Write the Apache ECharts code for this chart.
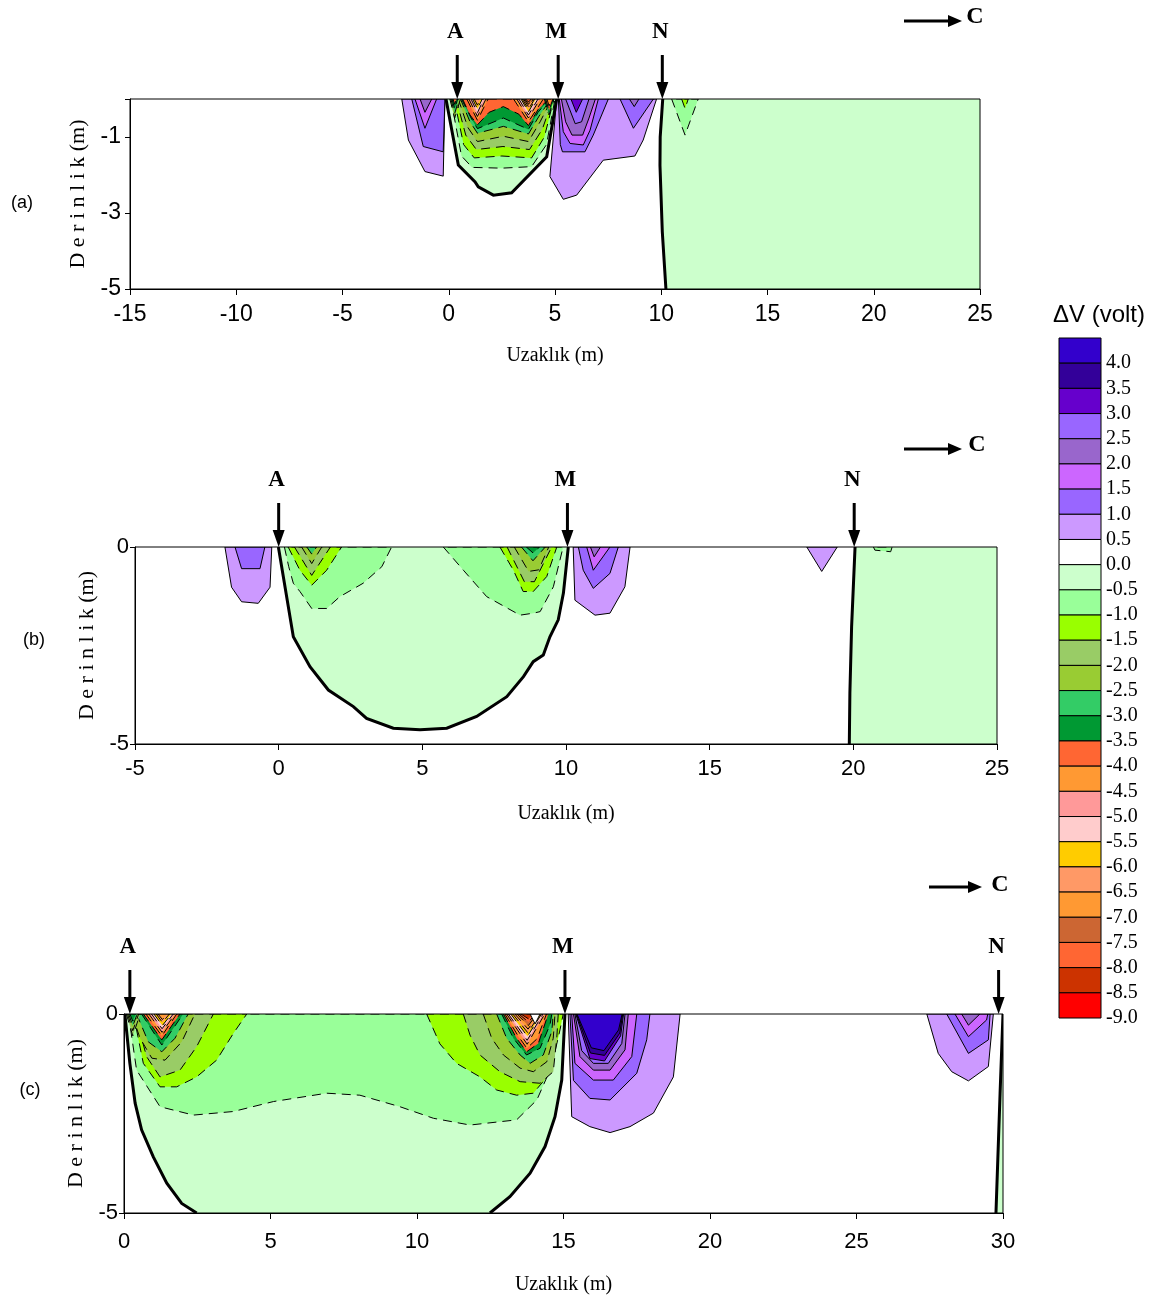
<!DOCTYPE html>
<html>
<head>
<meta charset="utf-8">
<script src="https://cdn.jsdelivr.net/npm/echarts@6/dist/echarts.min.js"></script>
<style>
html, body { margin: 0; padding: 0; background: #fff; }
#chart { width: 1154px; height: 1299px; }
</style>
</head>
<body>
<div id="chart"></div>
<script>
// ΔV colour classes: lower bound of each 0.5 V class, top to bottom
const binLower = [4.0, 3.5, 3.0, 2.5, 2.0, 1.5, 1.0, 0.5, 0.0, -0.5, -1.0, -1.5, -2.0, -2.5, -3.0, -3.5,
  -4.0, -4.5, -5.0, -5.5, -6.0, -6.5, -7.0, -7.5, -8.0, -8.5, -9.0];
const binColor = ['#3300CC', '#330099', '#6600CC', '#9966FF', '#9966CC', '#CC66FF', '#9966FF', '#CC99FF',
  '#FFFFFF', '#CCFFCC', '#99FF99', '#99FF00', '#99CC66', '#99CC33', '#33CC66', '#009933',
  '#FF6633', '#FF9933', '#FF9999', '#FFCCCC', '#FFCC00', '#FF9966', '#FF9933', '#CC6633',
  '#FF6633', '#CC3300', '#FF0000'];

// Profile (a): filled contour regions [class, [[distance, depth], ...]]
const contoursA = [
  [-0.5, [[-0.13,0],[0.45,-1.74],[1.24,-2.18],[1.39,-2.31],[2.10,-2.53],[2.96,-2.47],[4.61,-1.52],[5.08,0]]],
  [-0.5, [[10.07,0],[9.95,-1.0],[9.94,-1.75],[10.05,-3.5],[10.22,-5],[25,-5],[25,0]]],
  [-1.0, [[0.1,0],[0.6,-1.5],[1.1,-1.8],[2.5,-1.82],[3.9,-1.78],[4.6,-1.2],[5.0,0]]],
  [-1.5, [[0.25,0],[0.7,-1.2],[1.2,-1.55],[2.5,-1.5],[3.9,-1.55],[4.5,-1.0],[4.95,0]]],
  [-2.0, [[0.35,0],[0.8,-0.95],[1.3,-1.33],[2.55,-1.25],[3.8,-1.33],[4.4,-0.8],[4.9,0]]],
  [-2.5, [[0.45,0],[0.9,-0.75],[1.35,-1.12],[2.57,-0.98],[3.75,-1.12],[4.3,-0.6],[4.85,0]]],
  [-3.0, [[0.55,0],[1.0,-0.6],[1.35,-0.9],[2.57,-0.72],[3.75,-0.92],[4.25,-0.45],[4.8,0]]],
  [-3.5, [[0.6,0],[1.05,-0.5],[1.35,-0.78],[2.57,-0.5],[3.75,-0.8],[4.2,-0.35],[4.75,0]]],
  [-4.0, [[0.65,0],[1.0,-0.42],[1.35,-0.68],[1.9,-0.35],[2.57,-0.2],[3.3,-0.4],[3.75,-0.7],[4.2,-0.28],[4.7,0]]],
  [-4.5, [[0.85,0],[1.35,-0.56],[1.85,0]]],
  [-4.5, [[3.05,0],[3.75,-0.6],[4.45,0]]],
  [-5.0, [[0.95,0],[1.35,-0.46],[1.75,0]]],
  [-5.0, [[3.2,0],[3.75,-0.5],[4.3,0]]],
  [-5.5, [[1.05,0],[1.35,-0.36],[1.65,0]]],
  [-5.5, [[3.3,0],[3.75,-0.42],[4.2,0]]],
  [-6.0, [[1.12,0],[1.35,-0.26],[1.58,0]]],
  [-6.0, [[3.4,0],[3.75,-0.34],[4.1,0]]],
  [-6.5, [[1.2,0],[1.35,-0.16],[1.5,0]]],
  [-6.5, [[3.46,0],[3.75,-0.27],[4.04,0]]],
  [-7.0, [[3.52,0],[3.75,-0.2],[3.98,0]]],
  [-7.5, [[3.57,0],[3.75,-0.14],[3.93,0]]],
  [-8.0, [[3.62,0],[3.75,-0.08],[3.88,0]]],
  [-2.5, [[0.05,0],[0.28,-0.5],[0.55,0]]],
  [-3.0, [[0.1,0],[0.28,-0.38],[0.48,0]]],
  [-3.5, [[0.15,0],[0.28,-0.26],[0.42,0]]],
  [-4.0, [[0.2,0],[0.28,-0.14],[0.36,0]]],
  [-3.5, [[4.5,0],[4.72,-0.42],[4.95,0]]],
  [-4.0, [[4.56,0],[4.72,-0.3],[4.9,0]]],
  [-4.5, [[4.62,0],[4.72,-0.18],[4.84,0]]],
  [0.5, [[-2.21,0],[-1.9,-1.08],[-1.12,-1.91],[-0.26,-2.03],[-0.18,0]]],
  [1.0, [[-1.74,0],[-1.2,-1.25],[-0.26,-1.39],[-0.18,0]]],
  [1.5, [[-1.59,0],[-1.12,-0.77],[-0.57,0]]],
  [2.0, [[-1.35,0],[-1.12,-0.35],[-0.8,0]]],
  [0.5, [[5.08,0],[4.76,-2.04],[5.39,-2.64],[6.02,-2.53],[7.27,-1.61],[8.76,-1.5],[9.15,-1.08],[9.78,0]]],
  [1.0, [[5.16,0],[5.25,-1.2],[5.35,-1.39],[6.41,-1.39],[6.8,-0.95],[7.51,0]]],
  [1.0, [[8.06,0],[8.69,-0.77],[9.63,0]]],
  [1.5, [[5.2,0],[5.39,-0.86],[5.71,-1.17],[6.33,-1.21],[6.65,-0.82],[7.04,0]]],
  [2.0, [[5.3,0],[5.5,-0.6],[5.8,-0.95],[6.3,-0.95],[6.6,-0.5],[6.9,0]]],
  [2.0, [[8.5,0],[8.73,-0.2],[8.95,0]]],
  [2.5, [[5.5,0],[5.95,-0.65],[6.25,-0.6],[6.6,0]]],
  [3.0, [[5.75,0],[6.0,-0.35],[6.3,0]]],
  [-1.0, [[10.49,0],[11.12,-0.95],[11.74,0]]],
  [-1.5, [[10.96,0],[11.12,-0.25],[11.27,0]]]
];
const zeroLinesA = [
  [[-0.13,0],[0.45,-1.74],[1.24,-2.18],[1.39,-2.31],[2.10,-2.53],[2.96,-2.47],[4.61,-1.52],[5.08,0]],
  [[10.07,0],[9.95,-1.0],[9.94,-1.75],[10.05,-3.5],[10.22,-5]]
];
const electrodesA = [['A', 0.4], ['M', 5.15], ['N', 10.05]];

// Profile (b)
const contoursB = [
  [-0.5, [[-0.01,0],[0.51,-2.28],[1.09,-3.04],[1.73,-3.63],[2.60,-4.05],[3.06,-4.35],[3.99,-4.60],[4.92,-4.64],[5.85,-4.60],[6.89,-4.30],[7.94,-3.80],[8.52,-3.29],[8.86,-2.91],[9.21,-2.74],[9.44,-2.28],[9.73,-1.85],[9.91,-1.17],[10.08,0]]],
  [-0.5, [[20.06,0],[19.94,-2.02],[19.88,-3.71],[19.86,-5],[25,-5],[25,0]]],
  [-1.0, [[0.2,0],[0.35,-0.5],[0.51,-0.92],[0.74,-1.13],[1.15,-1.56],[1.67,-1.56],[2.13,-1.26],[2.94,-0.92],[3.59,-0.5],[3.93,0]]],
  [-1.0, [[5.73,0],[6.43,-0.59],[7.24,-1.26],[8.40,-1.73],[8.86,-1.68],[9.10,-1.64],[9.56,-1.01],[9.79,-0.33],[9.9,0]]],
  [-1.5, [[0.33,0],[0.74,-0.59],[1.15,-0.97],[1.67,-0.59],[2.19,0]]],
  [-2.0, [[0.55,0],[1.15,-0.72],[1.8,0]]],
  [-2.5, [[0.8,0],[1.15,-0.42],[1.5,0]]],
  [-3.0, [[0.98,0],[1.15,-0.18],[1.32,0]]],
  [-1.5, [[7.7,0],[8.17,-0.59],[8.51,-1.13],[8.86,-1.13],[9.33,-0.75],[9.68,0]]],
  [-2.0, [[7.95,0],[8.55,-0.88],[8.9,-0.88],[9.5,0]]],
  [-2.5, [[8.2,0],[8.7,-0.62],[9.05,-0.58],[9.4,0]]],
  [-3.0, [[8.45,0],[8.85,-0.35],[9.28,0]]],
  [-3.5, [[8.62,0],[8.85,-0.15],[9.08,0]]],
  [0.5, [[-1.87,0],[-1.64,-1.02],[-1.29,-1.39],[-0.71,-1.43],[-0.3,-1.02],[-0.24,0]]],
  [1.0, [[-1.52,0],[-1.29,-0.55],[-0.65,-0.55],[-0.48,0]]],
  [0.5, [[10.25,0],[10.31,-1.35],[11.01,-1.73],[11.53,-1.68],[12.05,-1.01],[12.23,0]]],
  [1.0, [[10.43,0],[10.6,-0.59],[10.95,-1.05],[11.53,-0.67],[11.82,0]]],
  [1.5, [[10.72,0],[10.95,-0.59],[11.53,0]]],
  [2.0, [[10.85,0],[10.98,-0.25],[11.2,0]]],
  [0.5, [[18.38,0],[18.9,-0.62],[19.44,0]]],
  [-1.0, [[20.7,0],[20.75,-0.08],[21.3,-0.12],[21.35,0]]]
];
const zeroLinesB = [
  [[-0.01,0],[0.51,-2.28],[1.09,-3.04],[1.73,-3.63],[2.60,-4.05],[3.06,-4.35],[3.99,-4.60],[4.92,-4.64],[5.85,-4.60],[6.89,-4.30],[7.94,-3.80],[8.52,-3.29],[8.86,-2.91],[9.21,-2.74],[9.44,-2.28],[9.73,-1.85],[9.91,-1.17],[10.08,0]],
  [[20.06,0],[19.94,-2.02],[19.88,-3.71],[19.86,-5]]
];
const electrodesB = [['A', 0], ['M', 10.05], ['N', 20.03]];

// Profile (c)
const contoursC = [
  [-0.5, [[0.03,0],[0.2,-1.24],[0.38,-2.24],[0.6,-2.91],[1.0,-3.59],[1.46,-4.25],[1.97,-4.76],[2.48,-5],[12.49,-5],[13.17,-4.59],[13.86,-4.0],[14.37,-3.33],[14.71,-2.58],[14.94,-1.66],[15.05,0]]],
  [-0.5, [[30,0],[29.9,-2.0],[29.76,-5],[30,-5]]],
  [-1.0, [[0.15,0],[0.43,-1.41],[1.23,-2.33],[2.37,-2.54],[3.73,-2.45],[5.10,-2.20],[6.92,-1.99],[8.05,-2.04],[9.42,-2.33],[10.56,-2.62],[11.81,-2.79],[13.40,-2.66],[14.09,-2.16],[14.54,-1.41],[14.94,0]]],
  [-1.5, [[0.32,0],[0.66,-1.24],[1.23,-1.83],[1.80,-1.83],[2.48,-1.58],[3.16,-1.16],[3.73,-0.49],[4.19,0]]],
  [-1.5, [[10.33,0],[10.78,-0.75],[11.35,-1.24],[12.15,-1.58],[12.72,-1.91],[13.40,-2.04],[13.97,-1.99],[14.54,-1.49],[14.88,-0.40],[14.99,0]]],
  [-2.0, [[0.38,0],[0.77,-1.07],[1.23,-1.58],[1.91,-1.41],[2.48,-0.82],[3.05,0]]],
  [-2.0, [[11.58,0],[11.81,-0.53],[12.15,-1.03],[12.83,-1.45],[13.52,-1.7],[14.2,-1.74],[14.65,-1.45],[14.77,-0.61],[14.82,0]]],
  [-2.5, [[0.26,0],[0.55,-0.61],[0.95,-1.11],[1.40,-1.16],[1.97,-0.70],[2.42,0]]],
  [-2.5, [[12.26,0],[12.55,-0.61],[12.95,-1.03],[13.52,-1.36],[13.97,-1.45],[14.43,-1.2],[14.65,-0.61],[14.71,0]]],
  [-3.0, [[0.43,0],[0.83,-0.70],[1.29,-0.95],[1.74,-0.61],[2.19,0]]],
  [-3.0, [[12.72,0],[13.06,-0.61],[13.52,-1.03],[13.86,-1.24],[14.31,-1.03],[14.6,-0.44],[14.65,0]]],
  [-3.5, [[0.6,0],[1.29,-0.78],[2.02,0]]],
  [-3.5, [[12.89,0],[13.29,-0.61],[13.74,-1.03],[14.2,-0.86],[14.54,-0.27],[14.6,0]]],
  [-4.0, [[0.66,0],[1.29,-0.65],[1.91,0]]],
  [-4.0, [[12.95,0],[13.4,-0.61],[13.74,-0.95],[14.14,-0.74],[14.48,0]]],
  [-4.5, [[0.75,0],[1.29,-0.55],[1.8,0]]],
  [-4.5, [[13.0,0],[13.45,-0.55],[13.75,-0.86],[14.1,-0.62],[14.42,0]]],
  [-5.0, [[0.85,0],[1.3,-0.46],[1.74,0]]],
  [-5.0, [[13.06,0],[13.76,-0.76],[14.36,0]]],
  [-5.5, [[0.94,0],[1.3,-0.37],[1.68,0]]],
  [-5.5, [[13.12,0],[13.76,-0.66],[14.3,0]]],
  [-6.0, [[1.02,0],[1.31,-0.29],[1.62,0]]],
  [-6.0, [[13.2,0],[13.77,-0.56],[14.25,0]]],
  [-6.5, [[1.1,0],[1.31,-0.21],[1.55,0]]],
  [-6.5, [[13.27,0],[13.78,-0.47],[14.2,0]]],
  [-7.0, [[1.16,0],[1.31,-0.14],[1.48,0]]],
  [-7.0, [[13.34,0],[13.79,-0.38],[14.15,0]]],
  [-7.5, [[13.41,0],[13.8,-0.29],[14.1,0]]],
  [-8.0, [[13.48,0],[13.8,-0.2],[14.05,0]]],
  [-8.5, [[13.55,0],[13.8,-0.12],[14.0,0]]],
  [0.0, [[13.86,0],[14.03,-0.25],[14.2,0]]],
  [-2.0, [[0.08,0],[0.3,-0.55],[0.55,0]]],
  [-2.5, [[0.12,0],[0.3,-0.42],[0.5,0]]],
  [-3.0, [[0.16,0],[0.3,-0.3],[0.45,0]]],
  [-3.5, [[0.2,0],[0.3,-0.18],[0.4,0]]],
  [0.5, [[15.16,0],[15.28,-2.58],[15.9,-2.83],[16.59,-2.98],[17.27,-2.83],[18.07,-2.49],[18.75,-1.58],[18.98,0]]],
  [1.0, [[15.22,0],[15.34,-1.67],[15.9,-2.12],[16.59,-2.16],[17.5,-1.49],[17.84,-0.65],[17.95,0]]],
  [1.5, [[15.28,0],[15.39,-1.24],[16.02,-1.66],[16.7,-1.66],[17.33,-1.07],[17.5,0]]],
  [2.0, [[15.34,0],[15.56,-1.07],[16.02,-1.41],[16.59,-1.41],[17.1,-0.9],[17.21,0]]],
  [2.5, [[15.39,0],[15.62,-0.92],[16.02,-1.24],[16.53,-1.24],[16.99,-0.74],[17.1,0]]],
  [3.0, [[15.42,0],[15.9,-1.12],[16.4,-1.18],[16.95,-0.55],[17.05,0]]],
  [3.5, [[15.44,0],[15.92,-0.98],[16.4,-1.04],[16.92,-0.48],[17.02,0]]],
  [4.0, [[15.46,0],[15.95,-0.85],[16.38,-0.92],[16.88,-0.4],[17.0,0]]],
  [0.5, [[27.4,0],[27.79,-0.99],[28.25,-1.45],[28.82,-1.68],[29.5,-1.32],[29.67,0]]],
  [1.0, [[28.08,0],[28.82,-0.99],[29.5,-0.65],[29.56,0]]],
  [1.5, [[28.36,0],[28.82,-0.57],[29.44,-0.15],[29.48,0]]],
  [2.0, [[28.59,0],[28.82,-0.28],[29.21,0]]]
];
const zeroLinesC = [
  [[0.03,0],[0.2,-1.24],[0.38,-2.24],[0.6,-2.91],[1.0,-3.59],[1.46,-4.25],[1.97,-4.76],[2.48,-5]],
  [[12.49,-5],[13.17,-4.59],[13.86,-4.0],[14.37,-3.33],[14.71,-2.58],[14.94,-1.66],[15.05,0]],
  [[30,0],[29.9,-2.0],[29.76,-5]]
];
const electrodesC = [['A', 0.2], ['M', 15.05], ['N', 29.85]];

// Axis ranges and depth tick spacing per profile
const xRanges = [[-15, 25], [-5, 25], [0, 30]];
const depthTicks = [2, 5, 5];

function colorOf(level) {
  return binColor[binLower.indexOf(level)];
}

function contourSeries(idx, list) {
  return {
    type: 'custom', xAxisIndex: idx, yAxisIndex: idx, clip: true, silent: true, z: 2,
    data: list.map(c => c[1][0]),
    renderItem: (params, api) => {
      const lvl = list[params.dataIndex][0];
      const points = list[params.dataIndex][1].map(p => api.coord(p));
      const style = { fill: colorOf(lvl), stroke: '#000', lineWidth: 1 };
      if (lvl === -0.5) style.stroke = null;
      else if (lvl <= -1.0) style.lineDash = [9, 6];
      return { type: 'polygon', shape: { points }, style };
    }
  };
}

function zeroSeries(idx, lines) {
  return {
    type: 'custom', xAxisIndex: idx, yAxisIndex: idx, clip: true, silent: true, z: 3,
    data: lines.map(l => l[0]),
    renderItem: (params, api) => ({
      type: 'polyline',
      shape: { points: lines[params.dataIndex].map(p => api.coord(p)) },
      style: { stroke: '#000', lineWidth: 3, fill: null }
    })
  };
}

function electrodeSeries(idx, list) {
  return {
    type: 'custom', xAxisIndex: idx, yAxisIndex: idx, clip: false, silent: true, z: 4,
    data: list.map(e => [e[1], 0]),
    renderItem: (params, api) => {
      const p = api.coord([list[params.dataIndex][1], 0]);
      return {
        type: 'group',
        children: [
          { type: 'line', shape: { x1: p[0], y1: p[1] - 44, x2: p[0], y2: p[1] - 14 }, style: { stroke: '#000', lineWidth: 3 } },
          { type: 'polygon', shape: { points: [[p[0] - 6, p[1] - 17], [p[0] + 6, p[1] - 17], [p[0], p[1]]] }, style: { fill: '#000' } },
          { type: 'text', style: { text: list[params.dataIndex][0], x: p[0] - 2, y: p[1] - 67, fill: '#000',
            font: 'bold 23px "Liberation Serif"', align: 'center', verticalAlign: 'middle' } }
        ]
      };
    }
  };
}

const grids = [
  { left: 130, top: 99, width: 850, height: 190 },
  { left: 135, top: 547, width: 862, height: 197 },
  { left: 124, top: 1014, width: 879, height: 199 }
];
const xLabelSize = [23, 22, 22];
const xLabelMargin = [14, 14, 18];
const xNameGap = [57, 60, 62];
const yNameGap = [39, 32, 33];
const yLabelMargin = [9, 6, 6];

const option = {
  animation: false,
  backgroundColor: '#fff',
  grid: grids.map(g => Object.assign({ show: true, borderColor: '#000', borderWidth: 1, z: 10 }, g))
    .concat([{ left: 1059, top: 338, width: 42, height: 680, show: false }]),
  xAxis: xRanges.map((r, i) => ({
    gridIndex: i, type: 'value', min: r[0], max: r[1], interval: 5, z: 10,
    axisLine: { show: true, onZero: false, lineStyle: { color: '#000', width: 1 } },
    axisTick: { show: true, length: 6, lineStyle: { color: '#000' } },
    axisLabel: { color: '#000', fontFamily: 'Liberation Sans', fontSize: xLabelSize[i], margin: xLabelMargin[i] },
    splitLine: { show: false },
    name: 'Uzaklık (m)', nameLocation: 'middle', nameGap: xNameGap[i],
    nameTextStyle: { fontFamily: 'Liberation Serif', fontSize: 20, color: '#000' }
  })).concat([{ gridIndex: 3, type: 'value', min: 0, max: 1, show: false }]),
  yAxis: depthTicks.map((t, i) => ({
    gridIndex: i, type: 'value', min: -5, max: 0, interval: t, z: 10,
    axisLine: { show: true, onZero: false, lineStyle: { color: '#000', width: 1 } },
    axisTick: { show: true, length: 5, lineStyle: { color: '#000' } },
    axisLabel: { color: '#000', fontFamily: 'Liberation Sans', fontSize: xLabelSize[i], margin: yLabelMargin[i],
      formatter: v => (t === 2 && v === 0) ? '' : String(v) },
    splitLine: { show: false },
    name: 'D e r i n l i k (m)', nameLocation: 'middle', nameGap: yNameGap[i],
    nameTextStyle: { fontFamily: 'Liberation Serif', fontSize: 22, color: '#000' }
  })).concat([{
    gridIndex: 3, type: 'value', min: -9, max: 4.5, interval: 0.5, position: 'right',
    axisLine: { show: false }, axisTick: { show: false }, splitLine: { show: false },
    axisLabel: { color: '#000', fontFamily: 'Liberation Serif', fontSize: 20, margin: 5,
      formatter: v => v > 4.2 ? '' : v.toFixed(1) }
  }]),
  series: [
    contourSeries(0, contoursA), zeroSeries(0, zeroLinesA), electrodeSeries(0, electrodesA),
    contourSeries(1, contoursB), zeroSeries(1, zeroLinesB), electrodeSeries(1, electrodesB),
    contourSeries(2, contoursC), zeroSeries(2, zeroLinesC), electrodeSeries(2, electrodesC),
    {
      type: 'custom', xAxisIndex: 3, yAxisIndex: 3, silent: true,
      data: binLower.map(v => [0, v]),
      renderItem: (params, api) => {
        const v = binLower[params.dataIndex];
        const a = api.coord([0, v + 0.5]);
        const b = api.coord([1, v]);
        return { type: 'rect', shape: { x: a[0], y: a[1], width: b[0] - a[0], height: b[1] - a[1] },
          style: { fill: binColor[params.dataIndex], stroke: '#000', lineWidth: 1 } };
      }
    }
  ],
  graphic: [
    { type: 'text', x: 22, y: 203, style: { text: '(a)', font: '18px "Liberation Sans"', fill: '#000', align: 'center', verticalAlign: 'middle' } },
    { type: 'text', x: 34, y: 640, style: { text: '(b)', font: '18px "Liberation Sans"', fill: '#000', align: 'center', verticalAlign: 'middle' } },
    { type: 'text', x: 30, y: 1090, style: { text: '(c)', font: '18px "Liberation Sans"', fill: '#000', align: 'center', verticalAlign: 'middle' } },
    { type: 'text', x: 1099, y: 315, style: { text: 'ΔV (volt)', font: '24px "Liberation Sans"', fill: '#000', align: 'center', verticalAlign: 'middle' } },
    { type: 'line', shape: { x1: 904, y1: 21, x2: 950, y2: 21 }, style: { stroke: '#000', lineWidth: 3 } },
    { type: 'polygon', shape: { points: [[948, 15], [962, 21], [948, 27]] }, style: { fill: '#000' } },
    { type: 'text', x: 975, y: 17, style: { text: 'C', font: 'bold 24px "Liberation Serif"', fill: '#000', align: 'center', verticalAlign: 'middle' } },
    { type: 'line', shape: { x1: 904, y1: 449, x2: 950, y2: 449 }, style: { stroke: '#000', lineWidth: 3 } },
    { type: 'polygon', shape: { points: [[948, 443], [962, 449], [948, 455]] }, style: { fill: '#000' } },
    { type: 'text', x: 977, y: 445, style: { text: 'C', font: 'bold 24px "Liberation Serif"', fill: '#000', align: 'center', verticalAlign: 'middle' } },
    { type: 'line', shape: { x1: 929, y1: 887, x2: 970, y2: 887 }, style: { stroke: '#000', lineWidth: 3 } },
    { type: 'polygon', shape: { points: [[968, 881], [982, 887], [968, 893]] }, style: { fill: '#000' } },
    { type: 'text', x: 1000, y: 885, style: { text: 'C', font: 'bold 24px "Liberation Serif"', fill: '#000', align: 'center', verticalAlign: 'middle' } }
  ]
};

echarts.init(document.getElementById('chart'), null, { renderer: 'canvas' }).setOption(option);
</script>
</body>
</html>
